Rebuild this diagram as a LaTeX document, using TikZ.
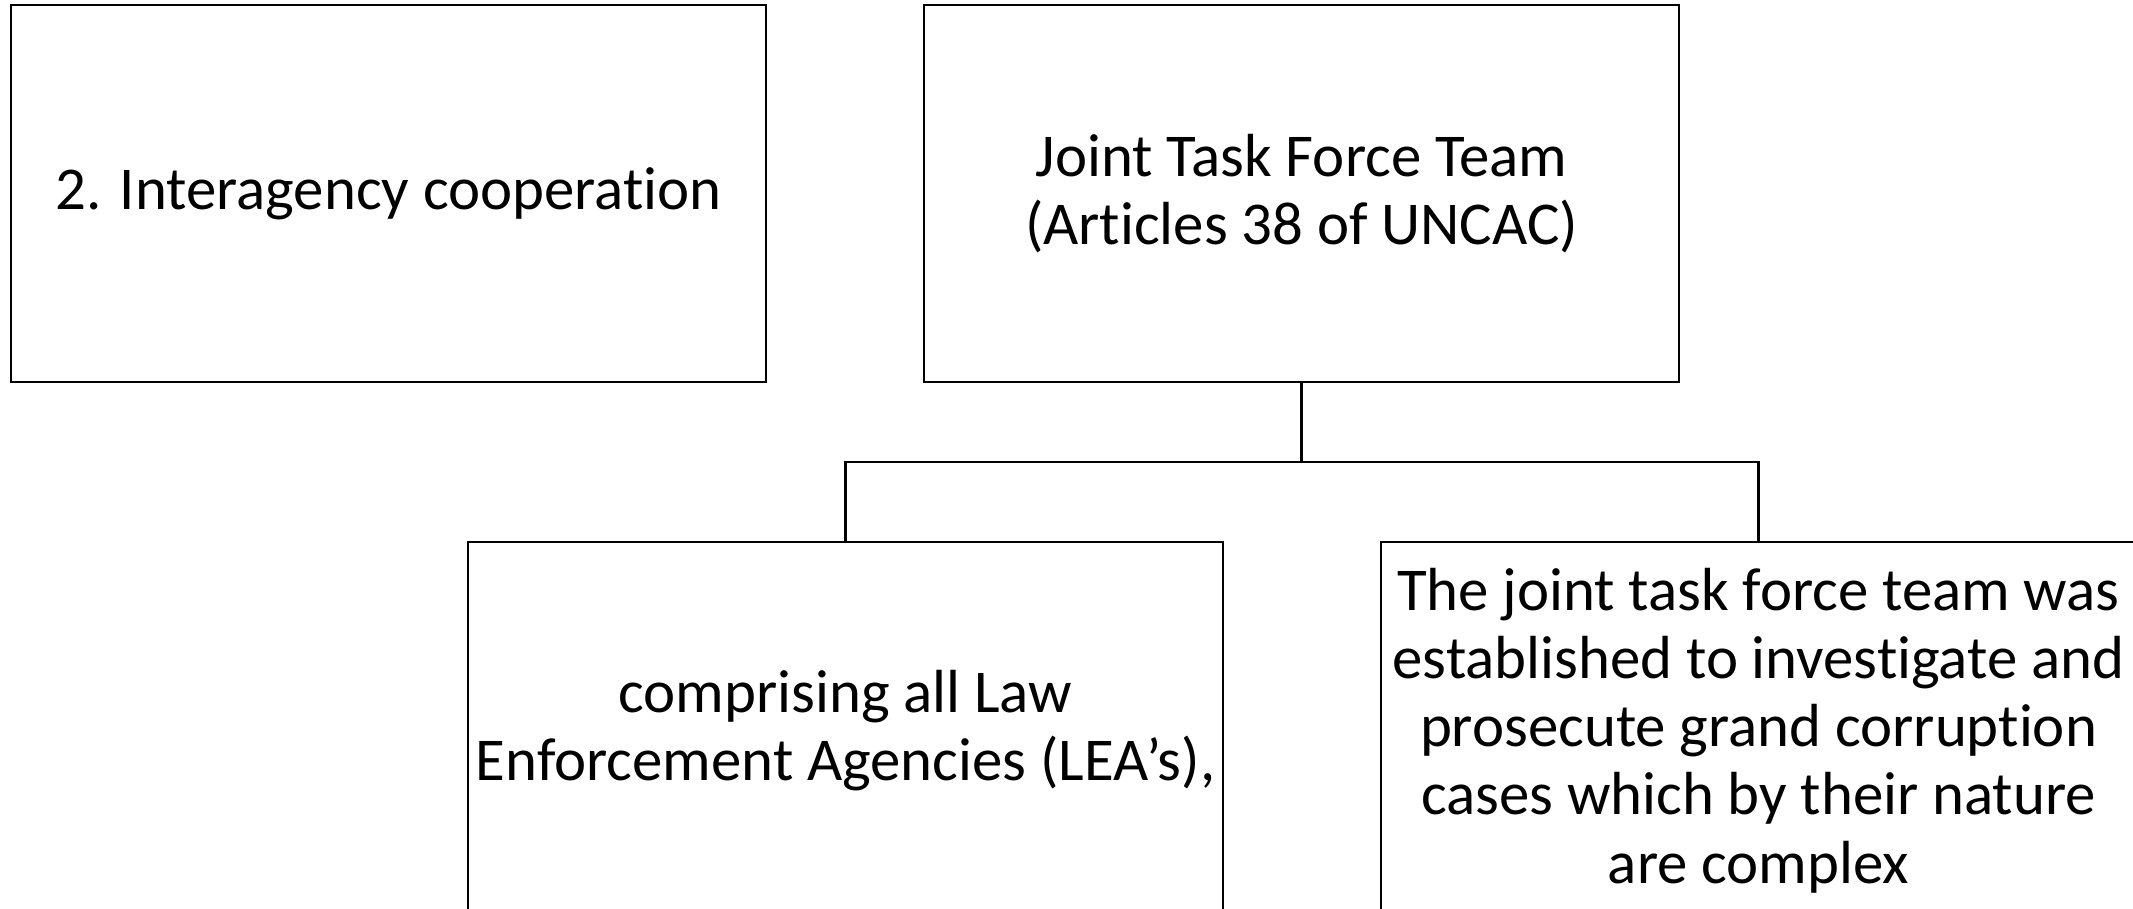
\documentclass[tikz,border=0pt]{standalone}
\usepackage{fontspec}
\setmainfont[RawFeature=-liga]{Carlito}
\begin{document}
\begin{tikzpicture}[x=0.01cm,y=-0.01cm,
  box/.style={draw=black, line width=0.6pt, minimum width=7.55cm, minimum height=3.77cm,
    inner sep=0pt, align=center, font=\fontsize{17.3}{19.4}\selectfont},
  conn/.style={draw=black, line width=0.6pt}]
\useasboundingbox (0,0) rectangle (2133,908);
\clip (0,0) rectangle (2133,908);
\fill[white] (0,0) rectangle (2133,908);
\node[box] (b1) at (388.5,193.5) {2. Interagency cooperation};
\node[box] (b2) at (1301.5,193.5) {Joint Task Force Team\\(Articles 38 of UNCAC)};
\node[box] (b3) at (845.5,730.5) {comprising all Law\\Enforcement Agencies (LEA’s),};
\node[box] (b4) at (1758.5,730.5) {The joint task force team was\\established to investigate and\\prosecute grand corruption\\cases which by their nature\\are complex};
\coordinate (j) at (1301.5,462);
\draw[conn] (b2.south) -- (j);
\draw[conn] (b3.north) |- (j) -| (b4.north);
\end{tikzpicture}
\end{document}
